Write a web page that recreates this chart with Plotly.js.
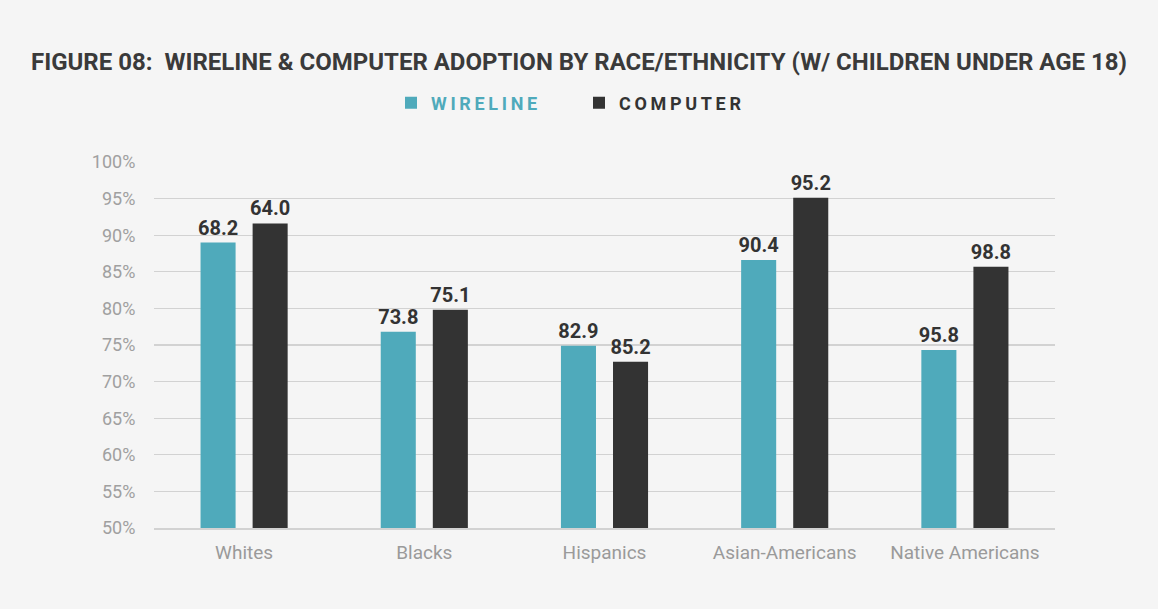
<!DOCTYPE html>
<html>
<head>
<meta charset="utf-8">
<script src="https://cdn.plot.ly/plotly-3.0.1.min.js"></script>
<style>
  html, body { margin: 0; padding: 0; background: #f5f5f5; }
  #chart { width: 1158px; height: 609px; }
</style>
</head>
<body>
<div id="chart"></div>
<script>
// Categories
const categories = ["Whites", "Blacks", "Hispanics", "Asian-Americans", "Native Americans"];
// Bar heights as drawn (percent)
const wirelineValues = [89.0, 76.8, 74.9, 86.6, 74.3];
const computerValues = [91.6, 79.8, 72.7, 95.1, 85.7];
// Value labels as printed above bars
const wirelineLabels = ["68.2", "73.8", "82.9", "90.4", "95.8"];
const computerLabels = ["64.0", "75.1", "85.2", "95.2", "98.8"];
// Y tick values / labels
const yTickVals = [50, 55, 60, 65, 70, 75, 80, 85, 90, 95, 100];
const yTickText = ["50%", "55%", "60%", "65%", "70%", "75%", "80%", "85%", "90%", "95%", "100%"];

const TEAL = "#4faabb";
const DARK = "#333333";
const FONT = "Roboto, 'DejaVu Sans', sans-serif";
const labelFont = { family: FONT, size: 20, color: "#333333", weight: 700 };

function track(s) { return s.split("").join("\u2009"); }

const traces = [
  {
    type: "bar",
    name: '<span style="color:#4faabb">' + track("WIRELINE") + '</span>',
    x: categories,
    y: wirelineValues,
    text: wirelineLabels,
    textposition: "outside",
    constraintext: "none",
    textfont: labelFont,
    cliponaxis: false,
    marker: { color: TEAL },
    hoverinfo: "skip"
  },
  {
    type: "bar",
    name: '<span style="color:#333333">' + track("COMPUTER") + '</span>',
    x: categories,
    y: computerValues,
    text: computerLabels,
    textposition: "outside",
    constraintext: "none",
    textfont: labelFont,
    cliponaxis: false,
    marker: { color: DARK },
    hoverinfo: "skip"
  }
];

const layout = {
  width: 1158,
  height: 609,
  paper_bgcolor: "#f5f5f5",
  plot_bgcolor: "#f5f5f5",
  margin: { l: 154, r: 103, t: 162, b: 81 },
  barmode: "group",
  bargap: 0.422,
  bargroupgap: 0.327,
  title: {
    text: "FIGURE 08:  WIRELINE &amp; COMPUTER ADOPTION BY RACE/ETHNICITY (W/ CHILDREN UNDER AGE 18)",
    font: { family: FONT, size: 24, color: "#3a3a3a", weight: 700 },
    x: 0.5,
    xanchor: "center",
    xref: "container",
    y: 1 - 62 / 609,
    yanchor: "middle",
    yref: "container"
  },
  showlegend: true,
  legend: {
    orientation: "h",
    x: 0.5,
    xanchor: "center",
    xref: "container",
    y: 1 - 103 / 609,
    yref: "container",
    yanchor: "middle",
    bgcolor: "rgba(0,0,0,0)",
    entrywidth: 143,
    entrywidthmode: "pixels",
    font: { family: FONT, size: 18, color: "#333333", weight: 700 },
    traceorder: "normal"
  },
  xaxis: {
    type: "category",
    showgrid: false,
    showline: true,
    linecolor: "#d2d2d2",
    linewidth: 2,
    ticks: "",
    ticklabelstandoff: 6,
    tickfont: { family: FONT, size: 19, color: "#9a9a9a" },
    fixedrange: true
  },
  yaxis: {
    range: [50, 100],
    tickvals: yTickVals,
    ticktext: yTickText,
    showgrid: true,
    gridcolor: "#d2d2d2",
    gridwidth: 1.3,
    zeroline: false,
    showline: false,
    ticks: "outside",
    ticklen: 14,
    tickcolor: "rgba(0,0,0,0)",
    tickfont: { family: FONT, size: 18, color: "#a0a0a0" },
    fixedrange: true
  }
};

Plotly.newPlot("chart", traces, layout, { displayModeBar: false, staticPlot: true });
</script>
</body>
</html>
